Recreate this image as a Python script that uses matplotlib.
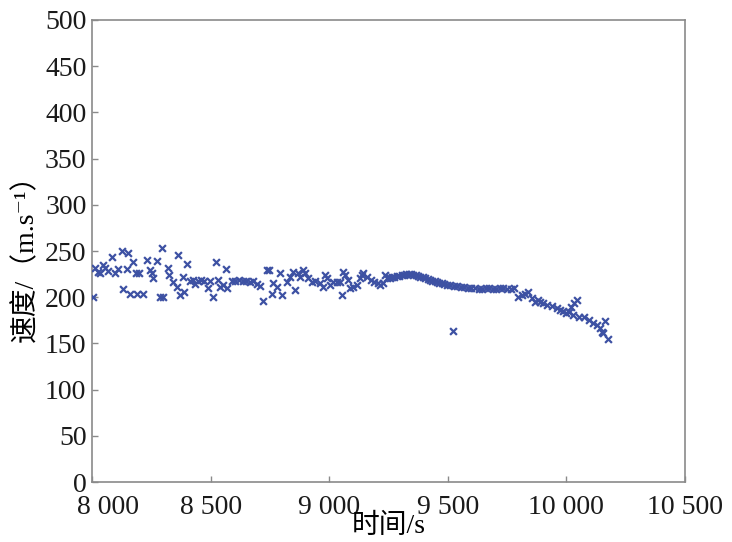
import matplotlib

matplotlib.use("Agg")
import matplotlib.pyplot as plt
from matplotlib.transforms import ScaledTranslation

plt.rcParams["font.family"] = ["Liberation Serif", "Noto Sans CJK SC", "DejaVu Serif"]

# speed samples
time_early = [8005, 8013, 8025, 8034, 8046, 8055, 8068, 8084, 8097, 8110, 8126, 8131, 8148, 8152,
              8160, 8173, 8185, 8190, 8200, 8215, 8232, 8245, 8252, 8257, 8274, 8287, 8295, 8300,
              8320, 8324, 8342, 8358, 8363, 8371, 8384, 8388, 8400, 8413, 8425, 8436, 8447, 8460,
              8472, 8489, 8497, 8510, 8523, 8531, 8540, 8552, 8565, 8570, 8590, 8605, 8620, 8635,
              8650, 8665, 8680, 8695, 8710, 8721, 8738, 8748, 8759, 8764, 8780, 8793, 8801, 8822,
              8835, 8848, 8856, 8869, 8878]
speed_early = [200, 232, 227, 226, 235, 232, 228, 243, 226, 230, 250, 209, 231, 248,
               203, 238, 226, 203, 226, 204, 240, 229, 226, 221, 239, 200, 253, 200,
               232, 224, 216, 211, 246, 202, 222, 206, 236, 217, 219, 214, 218, 219,
               217, 210, 218, 200, 238, 219, 211, 213, 231, 210, 218, 217, 219, 217,
               218, 216, 217, 214, 212, 196, 229, 229, 203, 215, 211, 226, 202, 216,
               222, 227, 208, 226, 222]

time_mid = [8890, 8898, 8911, 8928, 8940, 8961, 8974, 8982, 8991, 9003, 9016, 9033, 9046, 9054,
            9058, 9067, 9079, 9088, 9100, 9117, 9130, 9138, 9142, 9159, 9175, 9190, 9205, 9215,
            9227, 9235]
speed_mid = [229, 226, 221, 216, 218, 215, 211, 224, 221, 213, 216, 216, 216, 202,
             227, 224, 219, 210, 211, 213, 221, 224, 226, 222, 219, 216, 215, 213,
             215, 224]

time_smooth = [9244, 9255, 9265, 9275, 9285, 9295, 9305, 9315, 9325, 9335, 9345, 9355, 9365,
               9375, 9385, 9395, 9405, 9415, 9425, 9435, 9445, 9455, 9465, 9475, 9485, 9495,
               9510, 9525, 9540, 9555, 9570, 9585, 9600, 9615, 9630, 9645, 9660, 9675, 9690,
               9705, 9720, 9735, 9750, 9765, 9780]
speed_smooth = [221, 221, 222, 222, 223, 223, 224, 224, 225, 225, 225, 224, 224,
                223, 222, 222, 221, 220, 219, 218, 217, 216, 215, 215, 214, 213,
                213, 212, 212, 211, 211, 210, 210, 210, 209, 209, 210, 210, 209,
                209, 210, 210, 209, 209, 210]

time_late = [9522, 9796, 9813, 9826, 9839, 9855, 9868, 9881, 9889, 9901, 9918, 9939, 9960, 9973,
             9986, 9999, 10012, 10020, 10032, 10046, 10028, 10054, 10075, 10096, 10113, 10130,
             10142, 10151, 10155, 10163, 10176]
speed_late = [163, 200, 202, 204, 206, 199, 195, 197, 195, 194, 192, 190, 188, 186,
              185, 183, 184, 189, 194, 197, 181, 179, 179, 175, 172, 170,
              167, 162, 161, 174, 155]

x_ticks = [8000, 8500, 9000, 9500, 10000, 10500]
x_tick_labels = ["8 000", "8 500", "9 000", "9 500", "10 000", "10 500"]
y_ticks = [0, 50, 100, 150, 200, 250, 300, 350, 400, 450, 500]

times = time_early + time_mid + time_smooth + time_late
speeds = speed_early + speed_mid + speed_smooth + speed_late

fig = plt.figure(figsize=(7.32, 5.42), dpi=100)
ax = fig.add_axes([0.1257, 0.1107, 0.810, 0.8524])

ax.scatter(times, speeds, marker="x", s=24, linewidths=1.6, color="#3d51a3", zorder=3)

ax.set_xlim(8000, 10500)
ax.set_ylim(0, 500)
ax.set_xticks(x_ticks)
ax.set_xticklabels(x_tick_labels)
ax.set_yticks(y_ticks)

for side in ax.spines.values():
    side.set_color("#8a8a8a")
    side.set_linewidth(1.2)
ax.tick_params(direction="in", length=4, width=1, color="#8a8a8a", labelsize=20, labelcolor="#1a1a1a")
ax.tick_params(axis="x", pad=9)
ax.tick_params(axis="y", pad=4)

# the first x label sits a little right of its tick, clear of the "0"
first = ax.get_xticklabels()[0]
first.set_transform(first.get_transform() + ScaledTranslation(16 / 100, 0, fig.dpi_scale_trans))

ax.set_xlabel("时间/s", fontsize=20, labelpad=-4)
ax.set_ylabel("速度/（m.s⁻¹）", fontsize=20, labelpad=4)

fig.savefig("out.png", dpi=100)
